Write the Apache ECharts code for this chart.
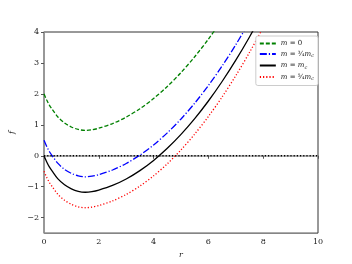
<!DOCTYPE html>
<html><head><meta charset="utf-8">
<script src="https://cdn.jsdelivr.net/npm/echarts@6/dist/echarts.min.js"></script>
<style>html,body{margin:0;padding:0;background:#fff}#c{width:352px;height:264px}</style>
</head><body><div id="c"></div>
<script>
const rVals = [0,0.1,0.2,0.3,0.5,0.75,1,1.25,1.5,1.75,2,2.5,3,3.5,4,4.5,5,5.5,6,6.5,7,7.5,8,8.5];
const fM0   = [2,1.8,1.63,1.5,1.26,1.06,0.93,0.85,0.82,0.84,0.89,1.04,1.25,1.52,1.85,2.24,2.69,3.2,3.77,4.4,5.09,5.84,6.65,7.5];
const fM34  = [0.5,0.3,0.13,0,-0.24,-0.44,-0.57,-0.65,-0.68,-0.66,-0.61,-0.46,-0.25,0.02,0.35,0.74,1.19,1.7,2.27,2.9,3.59,4.34,5.15,6.0];
const fMc   = [0,-0.2,-0.37,-0.5,-0.74,-0.94,-1.07,-1.15,-1.18,-1.16,-1.11,-0.96,-0.75,-0.48,-0.15,0.24,0.69,1.2,1.77,2.4,3.09,3.84,4.65,5.5];
const fM54  = [-0.5,-0.7,-0.87,-1,-1.24,-1.44,-1.57,-1.65,-1.68,-1.66,-1.61,-1.46,-1.25,-0.98,-0.65,-0.26,0.19,0.7,1.27,1.9,2.59,3.34,4.15,5.0];
const zeroLine = [[0,0],[10,0]];
const xTicks = [0,2,4,6,8,10];
const yTicks = [-2,-1,0,1,2,3,4];
const names = ['m0','m34','mc','m54'];

const serif = "'DejaVu Serif','Liberation Serif',serif";
const pair = a => rVals.map((r,i)=>[r,a[i]]);
const mk = (name, data, color, type, w) => ({
  name, type:'line', data: pair(data), symbol:'none', smooth:0.3, clip:true,
  lineStyle:{color, width:w, type}, itemStyle:{color}
});
const labelFmt = {
  m0: '{i|m} {t|= 0}',
  m34: '{i|m} {t|=} {t|³⁄₄}{i|m}{s|c}',
  mc: '{i|m} {t|=} {i|m}{s|c}',
  m54: '{i|m} {t|=} {t|⁵⁄₄}{i|m}{s|c}'
};
const chart = echarts.init(document.getElementById('c'));
chart.setOption({
  animation:false,
  backgroundColor:'#fff',
  grid:{left:44,right:34,top:32,bottom:30,show:true,borderColor:'#333',borderWidth:1,backgroundColor:'transparent'},
  xAxis:{type:'value',min:0,max:10,interval:2,
    name:'r',nameLocation:'middle',nameGap:17,
    nameTextStyle:{fontFamily:serif,fontStyle:'italic',fontSize:8,color:'#222'},
    axisLine:{lineStyle:{color:'#999',width:1.5}},
    axisTick:{show:true,length:3,lineStyle:{color:'#555'},customValues:xTicks},
    axisLabel:{fontFamily:serif,fontSize:8,color:'#222',margin:5,customValues:xTicks},
    splitLine:{show:false}},
  yAxis:{type:'value',min:-2.5,max:4,
    name:'f',nameLocation:'middle',nameGap:22,nameRotate:90,
    nameTextStyle:{fontFamily:serif,fontStyle:'italic',fontSize:8,color:'#222'},
    axisLine:{show:true,lineStyle:{color:'#999',width:1.5}},
    axisTick:{show:true,length:3,lineStyle:{color:'#555'},customValues:yTicks},
    axisLabel:{fontFamily:serif,fontSize:8,color:'#222',margin:5,customValues:yTicks,
      formatter:v=>String(v).replace('-','\u2212')},
    splitLine:{show:false}},
  legend:{data:names,orient:'vertical',right:34,top:36,itemWidth:16,itemHeight:8,itemGap:3.5,
    padding:[4,4,4,3],backgroundColor:'#fff',borderColor:'#ccc',borderWidth:1,borderRadius:2,
    itemStyle:{opacity:0},
    formatter:n=>labelFmt[n],
    textStyle:{fontFamily:serif,fontSize:7,color:'#222',
      rich:{i:{fontFamily:serif,fontStyle:'italic',fontSize:7,color:'#222'},
            t:{fontFamily:serif,fontSize:7,color:'#222'},
            s:{fontFamily:serif,fontStyle:'italic',fontSize:5,color:'#222',padding:[4,0,0,0]}}}},
  series:[
    mk('m0',fM0,'#008000',[4,2],1.3),
    mk('m34',fM34,'#0000ff',[7,2,1.2,2],1.3),
    mk('mc',fMc,'#000000','solid',1.3),
    mk('m54',fM54,'#ff0000',[1.2,2],1.3),
    {name:'zero',type:'line',data:zeroLine,symbol:'none',lineStyle:{color:'#000',width:1.3,type:[1.2,2]},silent:true}
  ]
});
</script></body></html>
